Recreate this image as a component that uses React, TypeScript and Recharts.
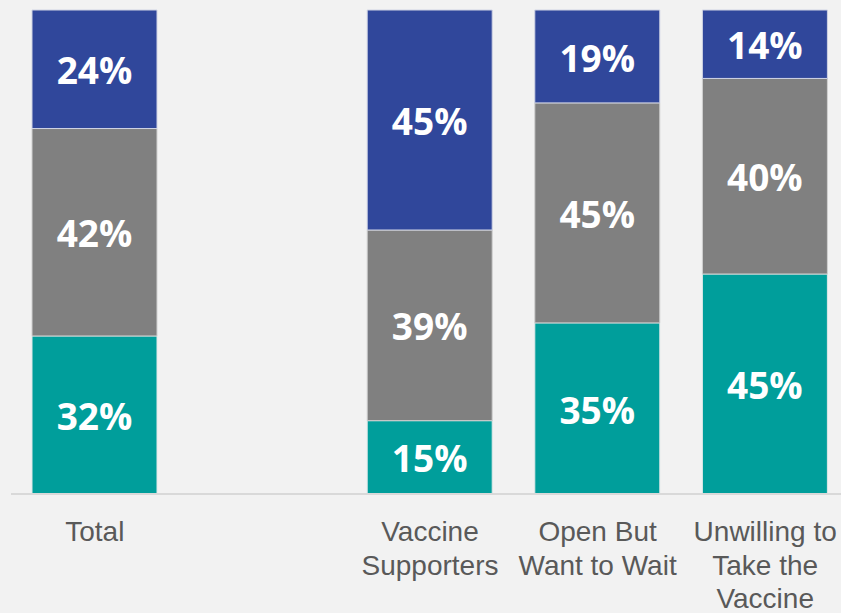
import React from 'react';
import { BarChart, Bar, XAxis, YAxis, LabelList } from 'recharts';

// categories (second slot is an empty spacer in the original)
const categories = ['Total', '', 'Vaccine\nSupporters', 'Open But\nWant to Wait', 'Unwilling to\nTake the\nVaccine'];
const likely = [32, null, 15, 35, 45]; // teal, bottom
const middle = [42, null, 39, 45, 40]; // gray
const top = [24, null, 45, 19, 14]; // blue, top

const data = categories.map((name, i) => ({
    name,
    likely: likely[i],
    middle: middle[i],
    top: top[i],
}));

const pct = (v: any) => (v == null ? '' : `${v}%`);

const labelStyle = {
    fill: '#ffffff',
    fontSize: 37,
    fontWeight: 700,
    fontFamily: '"Open Sans", sans-serif',
};

function CategoryTick({ x, y, payload }: any) {
    const lines = String(payload.value).split('\n');
    return (
        <text
            x={x}
            y={y}
            textAnchor="middle"
            fill="#595959"
            fontSize={28}
            fontFamily='"Liberation Sans", Arial, sans-serif'
        >
            {lines.map((line, i) => (
                <tspan key={i} x={x} dy={i === 0 ? 47 : 33.5}>
                    {line}
                </tspan>
            ))}
        </text>
    );
}

export default function App() {
    return (
        <div style={{ position: 'absolute', left: 0, top: 0, width: 841, height: 613, background: '#f2f2f2', overflow: 'hidden' }}>
            <BarChart
                width={860}
                height={613}
                data={data}
                stackOffset="expand"
                margin={{ top: 10, right: 11, left: 11, bottom: 0 }}
            >
                <XAxis
                    dataKey="name"
                    height={119}
                    interval={0}
                    tickLine={false}
                    tickSize={0}
                    tickMargin={0}
                    axisLine={{ stroke: '#d9d9d9', strokeWidth: 2 }}
                    tick={<CategoryTick />}
                />
                <YAxis hide domain={[0, 1]} />
                <Bar dataKey="likely" stackId="a" fill="#009e9b" stroke="#dfe8e8" strokeWidth={1} barSize={125} isAnimationActive={false}>
                    <LabelList dataKey="likely" position="center" formatter={pct} style={labelStyle} dy={2} />
                </Bar>
                <Bar dataKey="middle" stackId="a" fill="#808080" stroke="#d0d0d0" strokeWidth={1} barSize={125} isAnimationActive={false}>
                    <LabelList dataKey="middle" position="center" formatter={pct} style={labelStyle} dy={2} />
                </Bar>
                <Bar dataKey="top" stackId="a" fill="#30479b" stroke="#d0d4e4" strokeWidth={1} barSize={125} isAnimationActive={false}>
                    <LabelList dataKey="top" position="center" formatter={pct} style={labelStyle} dy={2} />
                </Bar>
            </BarChart>
        </div>
    );
}
